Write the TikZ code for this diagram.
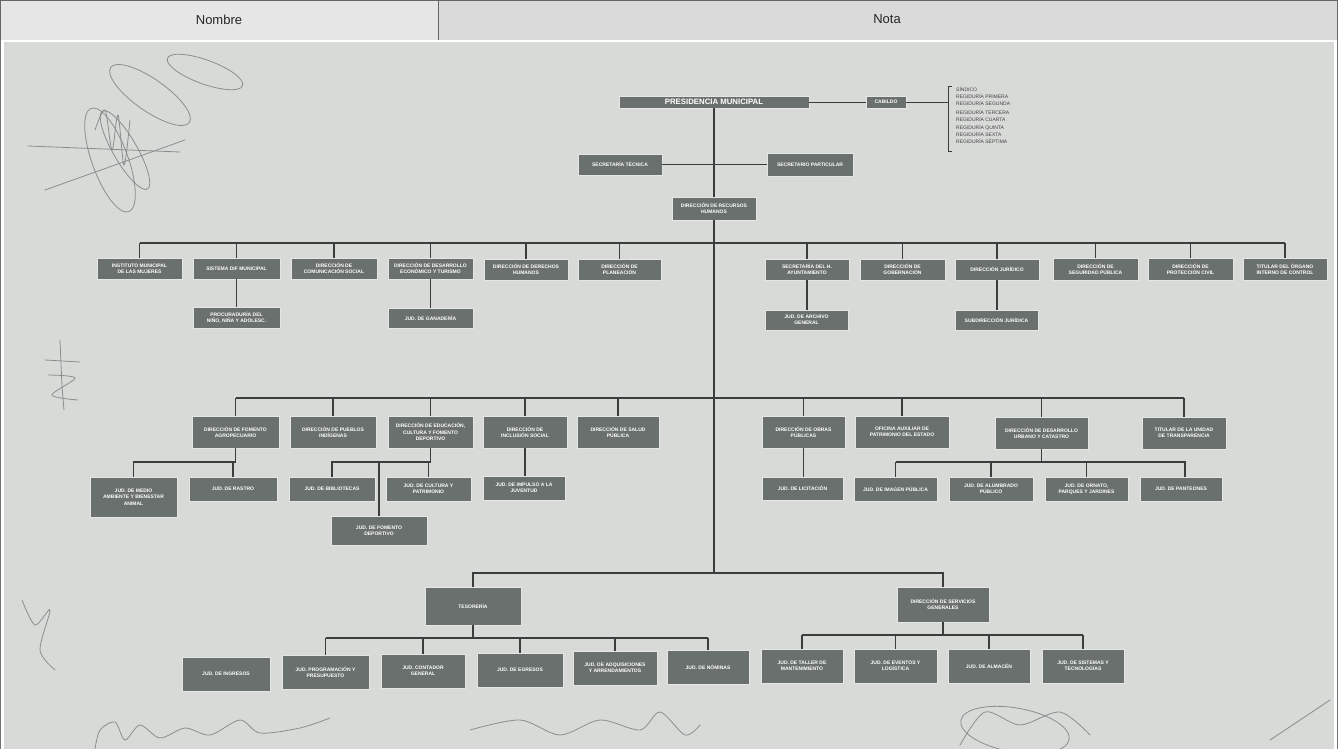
\documentclass[tikz,border=0pt]{standalone}
\usepackage{fontspec}
\setmainfont{Liberation Sans}
\definecolor{boxc}{HTML}{6A706D}
\definecolor{edgec}{HTML}{E4E6E4}
\definecolor{linec}{HTML}{3A3D3B}
\definecolor{paper}{HTML}{D8DAD8}
\definecolor{headl}{HTML}{E6E6E6}
\definecolor{headr}{HTML}{DADADA}
\definecolor{sigc}{HTML}{8A8E8C}
\newcommand{\obox}[6]{\node[obox, minimum width={(#4-#2)*1pt}, minimum height={(#5-#3)*1pt}] (#1) at ({(#2+#4)/2},{(#3+#5)/2}) {#6};}
\begin{document}
\begin{tikzpicture}[x=1pt,y=-1pt,
  obox/.style={draw=edgec, line width=0.7pt, fill=boxc, text=white, font=\bfseries\fontsize{5}{6.3}\selectfont, align=center, inner sep=0.5pt},
  ln/.style={draw=linec, line width=1.3pt},
  sig/.style={draw=sigc, line width=0.8pt, line cap=round},
  reg/.style={text=black!75, font=\fontsize{5}{7.2}\selectfont, align=left, anchor=north west, inner sep=0pt}]
\useasboundingbox (0,0) rectangle (1338,749);
% header
\fill[headl] (0,0) rectangle (438,40);
\fill[headr] (438,0) rectangle (1338,40);
\draw[black!60, line width=0.8pt] (0.5,0.5) rectangle (1337.5,40);
\draw[black!60, line width=0.8pt] (438,0.5) -- (438,40);
\node[font=\fontsize{13}{15}\selectfont, text=black!85] (hn) at (219,20) {Nombre};
\node[font=\fontsize{13}{15}\selectfont, text=black!85] (hv) at (887,19) {Nota};
% body
\fill[white] (0,40) rectangle (1338,749);
\fill[paper] (4,42) rectangle (1334,749);
\draw[black!55, line width=0.8pt] (0.5,40) -- (0.5,749);
\draw[black!55, line width=0.8pt] (1337.5,40) -- (1337.5,749);

% signatures (light scribbles)
\draw[sig] (150,95) ellipse [x radius=48pt, y radius=16pt, rotate=-35];
\draw[sig] (205,72) ellipse [x radius=40pt, y radius=12pt, rotate=-20];
\draw[sig] (110,160) ellipse [x radius=55pt, y radius=18pt, rotate=-70];
\draw[sig] (125,150) ellipse [x radius=45pt, y radius=12pt, rotate=-60];
\draw[sig] (28,146) -- (180,152);
\draw[sig] (45,190) -- (185,140);
\draw[sig] plot[smooth] coordinates {(95,130) (105,110) (112,150) (118,115) (124,165) (130,120)};
\draw[sig] plot[smooth] coordinates {(60,340) (62,385) (64,410)};
\draw[sig] plot[smooth] coordinates {(45,360) (80,362)};
\draw[sig] plot[smooth] coordinates {(48,375) (75,378) (52,395) (78,400)};
\draw[sig] plot[smooth] coordinates {(22,600) (35,625) (50,610) (40,650) (55,670)};
\draw[sig] plot[smooth] coordinates {(95,749) (100,730) (115,722) (125,740) (140,725) (160,738) (185,728) (210,735) (240,720) (260,733) (300,728) (330,718)};
\draw[sig] plot[smooth] coordinates {(470,730) (520,720) (560,735) (600,720) (640,730) (660,712) (685,735) (700,725)};
\draw[sig] (1015,730) ellipse [x radius=55pt, y radius=22pt, rotate=-10];
\draw[sig] plot[smooth] coordinates {(960,745) (985,712) (1020,725) (1060,712) (1090,735)};
\draw[sig] plot[smooth] coordinates {(1270,740) (1300,720) (1330,700)};

% top
\node[obox, minimum width=190pt, minimum height=12pt, font=\bfseries\fontsize{7.8}{8}\selectfont] (pres) at (714,102) {PRESIDENCIA MUNICIPAL};
\obox{cab}{866}{96}{906}{108}{CABILDO}
\obox{stec}{578}{154}{662}{175}{SECRETARÍA TÉCNICA}
\obox{spar}{767}{153}{853}{176}{SECRETARIO PARTICULAR}
\obox{rh}{672}{197}{756}{220}{DIRECCIÓN DE RECURSOS\\HUMANOS}
\node[reg] (regs) at (956,87) {SÍNDICO\\REGIDURÍA PRIMERA\\REGIDURÍA SEGUNDA\\[1.5pt]REGIDURÍA TERCERA\\REGIDURÍA CUARTA\\REGIDURÍA QUINTA\\REGIDURÍA SEXTA\\REGIDURÍA SÉPTIMA};
\coordinate (bkt1) at (948,86);
\coordinate (bkt2) at (948,151);
\draw[linec, line width=0.9pt] (pres.east) -- (cab.west);
\draw[linec, line width=0.9pt] (cab.east) -- (cab.east -| bkt1);
\draw[linec, line width=0.9pt] ([xshift=4pt]bkt1) -- (bkt1) -- (bkt2) -- ([xshift=4pt]bkt2);
\draw[ln] (pres.south -| rh.north) -- (rh.north);
\draw[ln] (stec.east) -- (stec.east -| spar.west);

% row 1
\obox{ime}{97}{258}{182}{279}{INSTITUTO MUNICIPAL\\DE LAS MUJERES}
\obox{dif}{193}{258}{280}{279}{SISTEMA DIF MUNICIPAL}
\obox{com}{291}{258}{377}{279}{DIRECCIÓN DE\\COMUNICACIÓN SOCIAL}
\obox{deco}{388}{258}{473}{279}{DIRECCIÓN DE DESARROLLO\\ECONÓMICO Y TURISMO}
\obox{ddhh}{484}{259}{568}{280}{DIRECCIÓN DE DERECHOS\\HUMANOS}
\obox{plan}{578}{259}{661}{280}{DIRECCIÓN DE\\PLANEACIÓN}
\obox{sha}{765}{259}{849}{280}{SECRETARÍA DEL H.\\AYUNTAMIENTO}
\obox{gob}{860}{259}{945}{280}{DIRECCIÓN DE\\GOBERNACIÓN}
\obox{jur}{955}{259}{1039}{280}{DIRECCIÓN JURÍDICO}
\obox{sp}{1053}{258}{1138}{280}{DIRECCIÓN DE\\SEGURIDAD PÚBLICA}
\obox{pc}{1148}{258}{1233}{280}{DIRECCIÓN DE\\PROTECCIÓN CIVIL}
\obox{oic}{1243}{258}{1327}{280}{TITULAR DEL ÓRGANO\\INTERNO DE CONTROL}
\obox{proc}{193}{307}{280}{328}{PROCURADURÍA DEL\\NIÑO, NIÑA Y ADOLESC.}
\obox{gan}{388}{308}{473}{328}{JUD. DE GANADERÍA}
\obox{arch}{765}{310}{848}{330}{JUD. DE ARCHIVO\\GENERAL}
\obox{subj}{955}{310}{1038}{330}{SUBDIRECCIÓN JURÍDICA}
\coordinate (b1) at (714,243);
\draw[ln] (ime.north |- b1) -- (oic.north |- b1);
\foreach \n in {ime,dif,com,deco,ddhh,plan,sha,gob,jur,sp,pc,oic}{\draw[ln] (\n.north |- b1) -- (\n.north);}
\draw[ln] (dif.south) -- (dif.south |- proc.north);
\draw[ln] (deco.south) -- (deco.south |- gan.north);
\draw[ln] (sha.south) -- (sha.south |- arch.north);
\draw[ln] (jur.south) -- (jur.south |- subj.north);

% row 2
\obox{agro}{192}{416}{279}{448}{DIRECCIÓN DE FOMENTO\\AGROPECUARIO}
\obox{pind}{290}{416}{376}{448}{DIRECCIÓN DE PUEBLOS\\INDÍGENAS}
\obox{edu}{388}{416}{473}{448}{DIRECCIÓN DE EDUCACIÓN,\\CULTURA Y FOMENTO\\DEPORTIVO}
\obox{inc}{483}{416}{567}{448}{DIRECCIÓN DE\\INCLUSIÓN SOCIAL}
\obox{sal}{577}{416}{659}{448}{DIRECCIÓN DE SALUD\\PÚBLICA}
\obox{obr}{762}{416}{845}{448}{DIRECCIÓN DE OBRAS\\PÚBLICAS}
\obox{opat}{855}{416}{949}{448}{OFICINA AUXILIAR DE\\PATRIMONIO DEL ESTADO}
\obox{du}{995}{417}{1088}{449}{DIRECCIÓN DE DESARROLLO\\URBANO Y CATASTRO}
\obox{transp}{1142}{417}{1226}{449}{TITULAR DE LA UNIDAD\\DE TRANSPARENCIA}
\obox{mab}{90}{477}{177}{517}{JUD. DE MEDIO\\AMBIENTE Y BIENESTAR\\ANIMAL}
\obox{ras}{189}{477}{277}{501}{JUD. DE RASTRO}
\obox{bib}{289}{477}{375}{501}{JUD. DE BIBLIOTECAS}
\obox{cul}{386}{477}{471}{501}{JUD. DE CULTURA Y\\PATRIMONIO}
\obox{fdep}{331}{516}{427}{545}{JUD. DE FOMENTO\\DEPORTIVO}
\obox{juv}{483}{476}{565}{500}{JUD. DE IMPULSO A LA\\JUVENTUD}
\obox{lic}{762}{477}{843}{500}{JUD. DE LICITACIÓN}
\obox{img}{854}{477}{937}{501}{JUD. DE IMAGEN PÚBLICA}
\obox{alu}{949}{477}{1033}{501}{JUD. DE ALUMBRADO\\PÚBLICO}
\obox{orn}{1045}{477}{1128}{501}{JUD. DE ORNATO,\\PARQUES Y JARDINES}
\obox{pan}{1140}{477}{1222}{501}{JUD. DE PANTEONES}
\coordinate (b2) at (714,398);
\coordinate (y2) at (714,462);
\draw[ln] (agro.north |- b2) -- (transp.north |- b2);
\foreach \n in {agro,pind,edu,inc,sal,obr,opat,du,transp}{\draw[ln] (\n.north |- b2) -- (\n.north);}
\draw[ln] (agro.south) -- (agro.south |- y2) -| (mab.north);
\draw[ln] (ras.north |- y2) -- (ras.north);
\draw[ln] (edu.south) -- (edu.south |- y2) -| (bib.north);
\draw[ln] (cul.north |- y2) -- (cul.north);
\draw[ln] (fdep.north |- y2) -- (fdep.north);
\draw[ln] (inc.south) -- (inc.south |- juv.north);
\draw[ln] (obr.south) -- (obr.south |- lic.north);
\draw[ln] (du.south) -- (du.south |- y2);
\draw[ln] (img.north |- y2) -- ([xshift=4pt]pan.north |- y2) -- ([xshift=4pt]pan.north);
\foreach \n in {img,alu,orn}{\draw[ln] (\n.north |- y2) -- (\n.north);}

% bottom
\obox{tes}{425}{587}{521}{625}{TESORERÍA}
\obox{sg}{897}{587}{989}{622}{DIRECCIÓN DE SERVICIOS\\GENERALES}
\obox{ing}{182}{657}{270}{691}{JUD. DE INGRESOS}
\obox{prog}{282}{655}{369}{689}{JUD. PROGRAMACIÓN Y\\PRESUPUESTO}
\obox{cont}{381}{654}{465}{688}{JUD. CONTADOR\\GENERAL}
\obox{egr}{477}{653}{563}{687}{JUD. DE EGRESOS}
\obox{adq}{573}{651}{657}{685}{JUD. DE ADQUISICIONES\\Y ARRENDAMIENTOS}
\obox{nom}{667}{650}{749}{684}{JUD. DE NÓMINAS}
\obox{tall}{761}{649}{843}{683}{JUD. DE TALLER DE\\MANTENIMIENTO}
\obox{evt}{854}{649}{937}{683}{JUD. DE EVENTOS Y\\LOGÍSTICA}
\obox{alm}{948}{649}{1030}{683}{JUD. DE ALMACÉN}
\obox{sis}{1042}{649}{1124}{683}{JUD. DE SISTEMAS Y\\TECNOLOGÍAS}
\coordinate (b3) at (714,573);
\coordinate (y3) at (714,638);
\coordinate (y4) at (714,635);
\draw[ln] (rh.south) -- (b3);
\draw[ln] (tes.north) -- (tes.north |- b3) -- (sg.north |- b3) -- (sg.north);
\draw[ln] (tes.south) -- (tes.south |- y3);
\draw[ln] (prog.north |- y3) -- (nom.north |- y3);
\foreach \n in {prog,cont,egr,adq,nom}{\draw[ln] (\n.north |- y3) -- (\n.north);}
\draw[ln] (sg.south) -- (sg.south |- y4);
\draw[ln] (tall.north |- y4) -- (sis.north |- y4);
\foreach \n in {tall,evt,alm,sis}{\draw[ln] (\n.north |- y4) -- (\n.north);}
\end{tikzpicture}
\end{document}
